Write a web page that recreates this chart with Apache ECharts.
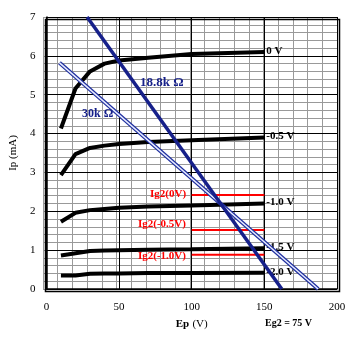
<!DOCTYPE html>
<html><head><meta charset="utf-8">
<script src="https://cdn.jsdelivr.net/npm/echarts@6/dist/echarts.min.js"></script>
<style>html,body{margin:0;padding:0;background:#fff}#c{width:360px;height:340px}</style>
</head><body><div id="c"></div>
<script>
var epPoints = [10, 20, 30, 40, 50, 70, 100, 150];
var ipG0 = [4.13, 5.16, 5.6, 5.8, 5.88, 5.95, 6.05, 6.1];
var ipGm05 = [2.93, 3.47, 3.63, 3.69, 3.73, 3.78, 3.83, 3.9];
var ipGm10 = [1.73, 1.96, 2.03, 2.06, 2.09, 2.12, 2.15, 2.2];
var ipGm15 = [0.86, 0.92, 0.98, 0.99, 1.0, 1.01, 1.02, 1.05];
var ipGm20 = [0.35, 0.35, 0.39, 0.4, 0.4, 0.41, 0.41, 0.42];
var curveNames = ['0 V', '-0.5 V', '-1.0 V', '-1.5 V', '-2.0 V'];
var ig2Names = ['Ig2(0V)', 'Ig2(-0.5V)', 'Ig2(-1.0V)'];
var ig2Values = [2.42, 1.52, 0.88];
var ig2Range = [100, 150];
var load188 = [[28, 7], [162, 0]];
var load30 = [[9, 5.82], [187, 0]];

var chart = echarts.init(document.getElementById('c'));
var serif = '"Liberation Serif", "Times New Roman", serif';
function pairs(ys){ return epPoints.map(function(x,i){ return [x, ys[i]]; }); }
var curves = [ipG0, ipGm05, ipGm10, ipGm15, ipGm20];
var series = [];
function add(s){ s.xAxisIndex = 1; s.yAxisIndex = 1; series.push(s); }
// empty series so the minor-grid axes (grid 0) are in use
series.push({type: 'line', data: [], xAxisIndex: 0, yAxisIndex: 0, silent: true});
curves.forEach(function(ys, k){
  add({
    type: 'line', data: pairs(ys), symbol: 'none', z: 5,
    lineStyle: {color: '#000', width: 4},
    endLabel: {show: true, formatter: curveNames[k], fontFamily: serif, fontWeight: 'bold',
      fontSize: 11, color: '#000', distance: 2, offset: [0, -1]}
  });
});
ig2Values.forEach(function(v, k){
  add({
    type: 'line', symbol: 'none', z: 4,
    data: [[ig2Range[0], v], [ig2Range[1], v]],
    lineStyle: {color: '#ff0000', width: 2}
  });
});
add({type: 'line', data: load30, symbol: 'none', z: 6, lineStyle: {color: '#2030a0', width: 4}});
add({type: 'line', data: load30, symbol: 'none', z: 7, lineStyle: {color: '#e8ecff', width: 1.5}});
add({type: 'line', data: load188, symbol: 'none', z: 8, lineStyle: {color: '#16208a', width: 3.5}});

var txt = function(l, t, s, c, fs){
  return {type: 'text', left: l, top: t, z: 20, style: {text: s, fill: c, font: 'bold ' + fs + 'px ' + serif}};
};
var gridBox = {left: 43, right: 23, top: 17, bottom: 51};
chart.setOption({
  animation: false,
  grid: [Object.assign({}, gridBox), Object.assign({}, gridBox)],
  xAxis: [{
    gridIndex: 0, type: 'value', min: 0, max: 200, interval: 10, z: 0,
    axisLine: {show: false}, axisTick: {show: false}, axisLabel: {show: false},
    splitLine: {show: true, lineStyle: {color: '#999999', width: 1}}
  }, {
    gridIndex: 1, type: 'value', min: 0, max: 200, interval: 50, z: 1,
    name: '{b|Ep} {n|(V)}', nameLocation: 'middle', nameGap: 27,
    nameTextStyle: {rich: {b: {fontFamily: serif, fontWeight: 'bold', fontSize: 11, color: '#000'},
                           n: {fontFamily: serif, fontSize: 11, color: '#000'}}},
    axisLine: {lineStyle: {color: '#000', width: 1.5}}, axisTick: {show: false},
    axisLabel: {fontFamily: serif, fontSize: 11, color: '#000', margin: 13},
    splitLine: {show: true, lineStyle: {color: '#000', width: 1}}
  }],
  yAxis: [{
    gridIndex: 0, type: 'value', min: 0, max: 7, interval: 0.2, z: 0,
    axisLine: {show: false}, axisTick: {show: false}, axisLabel: {show: false},
    splitLine: {show: true, lineStyle: {color: '#999999', width: 1}}
  }, {
    gridIndex: 1, type: 'value', min: 0, max: 7, interval: 1, z: 1,
    name: 'Ip (mA)', nameLocation: 'middle', nameGap: 20,
    nameTextStyle: {fontFamily: serif, fontSize: 11, color: '#000'},
    axisLine: {show: true, lineStyle: {color: '#000', width: 1.5}}, axisTick: {show: false},
    axisLabel: {fontFamily: serif, fontSize: 11, color: '#000', margin: 11},
    splitLine: {show: true, lineStyle: {color: '#000', width: 1}}
  }],
  graphic: [
    {type: 'rect', left: 43, top: 17, shape: {width: 294, height: 272}, z: 3, silent: true,
      style: {fill: 'none', stroke: '#000', lineWidth: 1.5}},
    txt(140, 76, '18.8k Ω', '#16208a', 13),
    txt(82, 108, '30k Ω', '#16208a', 12),
    txt(150, 189, ig2Names[0], '#ff0000', 11),
    txt(138, 219, ig2Names[1], '#ff0000', 11),
    txt(138, 251, ig2Names[2], '#ff0000', 11),
    txt(265, 318, 'Eg2 = 75 V', '#000', 10)
  ],
  series: series
});
</script></body></html>
